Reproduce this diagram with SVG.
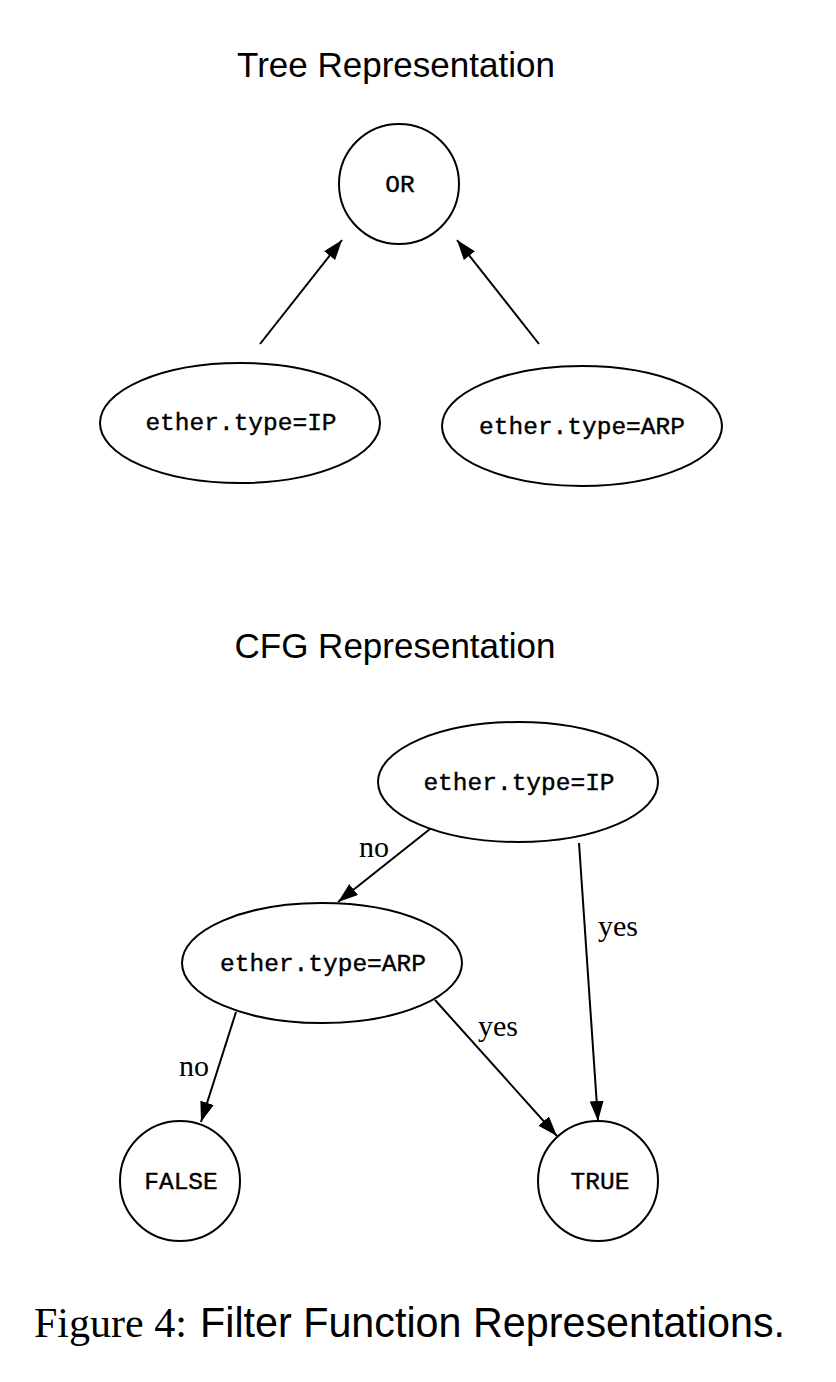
<svg xmlns="http://www.w3.org/2000/svg" width="836" height="1382" viewBox="0 0 836 1382">
<style>
.n{fill:none;stroke:#000;stroke-width:2}
.t{font-family:"Liberation Mono",monospace;font-size:24.5px;text-anchor:middle;fill:#000;stroke:#000;stroke-width:0.4}
.e{stroke:#000;stroke-width:2;fill:none;marker-end:url(#ah)}
.l{font-family:"Liberation Serif",serif;font-size:30px;fill:#000}
.h{font-family:"Liberation Sans",sans-serif;font-size:35px;text-anchor:middle;fill:#000}
</style>
<defs>
<marker id="ah" markerUnits="userSpaceOnUse" markerWidth="22" markerHeight="16" refX="20" refY="7" orient="auto" viewBox="0 0 22 16">
<path d="M0,0 L20,7 L0,14 z" fill="#000"/>
</marker>
</defs>
<rect width="836" height="1382" fill="#fff"/>
<text class="h" x="396" y="77">Tree Representation</text>
<text class="h" x="395" y="658">CFG Representation</text>
<g id="connectors">
<line class="e" x1="260" y1="344" x2="342" y2="240"/>
<line class="e" x1="539" y1="344" x2="457" y2="240"/>
<line class="e" x1="430" y1="829" x2="338" y2="902"/>
<line class="e" x1="579" y1="843" x2="598" y2="1121"/>
<line class="e" x1="236" y1="1012" x2="201" y2="1122"/>
<line class="e" x1="435" y1="1000" x2="557" y2="1136"/>
<text class="l" x="359" y="857">no</text>
<text class="l" x="598" y="936">yes</text>
<text class="l" x="179" y="1076">no</text>
<text class="l" x="478" y="1036">yes</text>
</g>
<g id="or"><circle class="n" cx="399" cy="184" r="60"/><text class="t" x="400" y="192">OR</text></g>
<g id="tip"><ellipse class="n" cx="240" cy="423" rx="140" ry="60"/><text class="t" x="241" y="430">ether.type=IP</text></g>
<g id="tarp"><ellipse class="n" cx="582" cy="426" rx="140" ry="60"/><text class="t" x="582" y="434">ether.type=ARP</text></g>
<g id="cip"><ellipse class="n" cx="518" cy="782" rx="140" ry="60"/><text class="t" x="519" y="790">ether.type=IP</text></g>
<g id="carp"><ellipse class="n" cx="322" cy="963" rx="140" ry="60"/><text class="t" x="323" y="971">ether.type=ARP</text></g>
<g id="false"><circle class="n" cx="180" cy="1181" r="60"/><text class="t" x="181" y="1189">FALSE</text></g>
<g id="true"><circle class="n" cx="598" cy="1181" r="60"/><text class="t" x="600" y="1189">TRUE</text></g>
<text x="34" y="1337" style="font-size:42px;fill:#000"><tspan style="font-family:'Liberation Serif',serif">Figure 4:</tspan><tspan x="200" style="font-family:'Liberation Sans',sans-serif" textLength="585" lengthAdjust="spacingAndGlyphs">Filter Function Representations.</tspan></text>
</svg>
